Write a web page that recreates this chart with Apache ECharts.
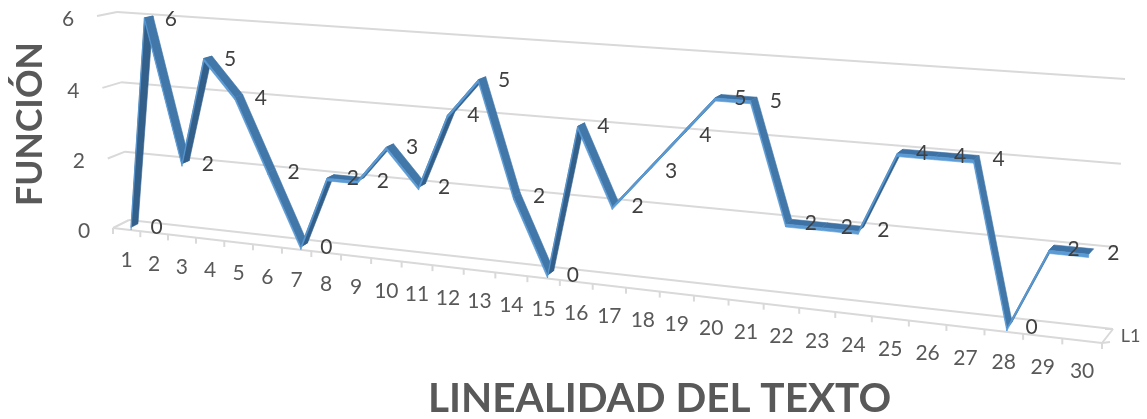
<!DOCTYPE html>
<html><head><meta charset="utf-8">
<style>html,body{margin:0;padding:0;background:#fff}#c{width:1147px;height:419px}</style>
<script src="https://cdn.jsdelivr.net/npm/echarts@6/dist/echarts.min.js"></script>
</head><body><div id="c"></div>
<script>
const categories = [1,2,3,4,5,6,7,8,9,10,11,12,13,14,15,16,17,18,19,20,21,22,23,24,25,26,27,28,29,30];
const values = [0,6,2,5,4,2,0,2,2,3,2,4,5,2,0,4,2,3,4,5,5,2,2,2,4,4,4,0,2,2];
const yTicks = [0,2,4,6];
const seriesName = 'L1';
const xTitle = 'LINEALIDAD DEL TEXTO';
const yTitle = 'FUNCIÓN';

// Perspective of the 3-D box: corners of front and back planes, order (0,0),(1,0),(1,1),(0,1)
const frontQuad = [[113,228],[1102,343],[1114,88],[97,16]];
const backQuad  = [[129,220],[1113,329],[1125,79],[117,12]];
function makeH(q){
  const [p0,p1,p2,p3]=q;
  const sx=p0[0]-p1[0]+p2[0]-p3[0], sy=p0[1]-p1[1]+p2[1]-p3[1];
  const dx1=p1[0]-p2[0], dx2=p3[0]-p2[0], dy1=p1[1]-p2[1], dy2=p3[1]-p2[1];
  const den=dx1*dy2-dx2*dy1;
  const g=(sx*dy2-dx2*sy)/den, h=(dx1*sy-sx*dy1)/den;
  const a=p1[0]-p0[0]+g*p1[0], b=p3[0]-p0[0]+h*p3[0], c=p0[0];
  const d=p1[1]-p0[1]+g*p1[1], e=p3[1]-p0[1]+h*p3[1], f=p0[1];
  return (s,t)=>{const w=g*s+h*t+1;return [(a*s+b*t+c)/w,(d*s+e*t+f)/w];};
}
const Hf=makeH(frontQuad), Hb=makeH(backQuad);
function proj(api,params,u,v,depth){
  const r=params.coordSys, c=api.coord([u,v]);
  const s=(c[0]-r.x)/r.width, t=(r.y+r.height-c[1])/r.height;
  const F=Hf(s,t), B=Hb(s,t);
  return [F[0]+(B[0]-F[0])*depth, F[1]+(B[1]-F[1])*depth];
}
const GRID='#d9d9d9', TICK='#595959', LABEL='#404040';
const FONT='Lato, "Open Sans", sans-serif';
const D1=0.27, D2=0.71, H=0.075;

function seg(a,b){return {type:'line',shape:{x1:a[0],y1:a[1],x2:b[0],y2:b[1]},style:{stroke:GRID,lineWidth:2},silent:true};}
function txt(p,str,fill,size){return {type:'text',x:p[0],y:p[1],style:{text:String(str),fill,font:size+'px '+FONT,align:'center',verticalAlign:'middle'},silent:true};}
function poly(pts,fill){return {type:'polygon',shape:{points:pts},style:{fill,stroke:fill,lineWidth:0.6},silent:true};}

function renderWall(params,api){
  const v=api.value(0);
  const f0=proj(api,params,0,v,0), b0=proj(api,params,0,v,1), b1=proj(api,params,30,v,1);
  return {type:'group',children:[seg(f0,b0),seg(b0,b1),txt([f0[0]-29,f0[1]+3],v,TICK,21)]};
}
function renderFloor(params,api){
  const f0=proj(api,params,0,0,0), f1=proj(api,params,30,0,0), b1=proj(api,params,30,0,1);
  const ch=[seg(f0,f1),seg(f1,b1),seg(f1,[f1[0]+8,f1[1]-1]),seg(b1,[b1[0]-8,b1[1]+0])];
  for(let i=0;i<=30;i++){const p=proj(api,params,i,0,0);ch.push(seg(p,[p[0],p[1]+6]));}
  const l=proj(api,params,30,0,0.5);
  ch.push(txt([l[0]+23,l[1]-0],seriesName,TICK,18));
  return {type:'group',children:ch};
}
function renderCat(params,api){
  const i=api.value(0), p=proj(api,params,i-0.5,0,0);
  return txt([p[0],p[1]+31],i,TICK,21);
}
function renderRibbon(params,api){
  const i=api.value(0), v0=api.value(1), v1=api.value(2);
  const u0=i-0.5,u1=i+0.5;
  const a=proj(api,params,u0,v0,D1), b=proj(api,params,u1,v1,D1);
  const c=proj(api,params,u1,v1,D2), d=proj(api,params,u0,v0,D2);
  const a2=proj(api,params,u0,v0-H,D1), b2=proj(api,params,u1,v1-H,D1);
  const top = v1>v0 ? '#335f8b' : (v1<v0 ? '#4277aa' : '#3f72a4');
  return {type:'group',children:[poly([a,b,c,d],top),poly([a2,b2,b,a],'#5b9bd5')]};
}
function renderLabel(params,api){
  const i=api.value(0), v=api.value(1), p=proj(api,params,i-0.5,v,0.5);
  return txt([p[0]+22,p[1]+2],v,LABEL,21);
}

const ribbonData=values.slice(0,-1).map((v,i)=>[categories[i],v,values[i+1]]);
const labelData=values.map((v,i)=>[categories[i],v]);
const ax={show:false,type:'value'};
const chart=echarts.init(document.getElementById('c'),null,{renderer:'canvas'});
chart.setOption({
  animation:false,
  backgroundColor:'#fff',
  grid:{left:0,right:0,top:0,bottom:0},
  xAxis:{...ax,min:0,max:30},
  yAxis:{...ax,min:0,max:6},
  tooltip:{show:false},
  graphic:[
    {type:'text',left:428,top:378,style:{text:xTitle,fill:'#595959',font:'bold 40.5px '+FONT}},
    {type:'text',x:31,y:124,rotation:Math.PI/2,style:{text:yTitle,fill:'#595959',font:'bold 35.5px '+FONT,align:'center',verticalAlign:'middle'}}
  ],
  series:[
    {type:'custom',name:'grid',data:yTicks.map(v=>[v]),encode:{x:-1,y:0},renderItem:renderWall,z:1,silent:true},
    {type:'custom',name:'floor',data:[[0]],encode:{y:0},renderItem:renderFloor,z:1,silent:true},
    {type:'custom',name:'cats',data:categories.map(c=>[c]),encode:{x:0},renderItem:renderCat,z:2,silent:true},
    {type:'custom',name:seriesName,data:ribbonData,encode:{x:0,y:1},renderItem:renderRibbon,z:3,silent:true},
    {type:'custom',name:'labels',data:labelData,encode:{x:0,y:1},renderItem:renderLabel,z:4,silent:true}
  ]
});
</script></body></html>
